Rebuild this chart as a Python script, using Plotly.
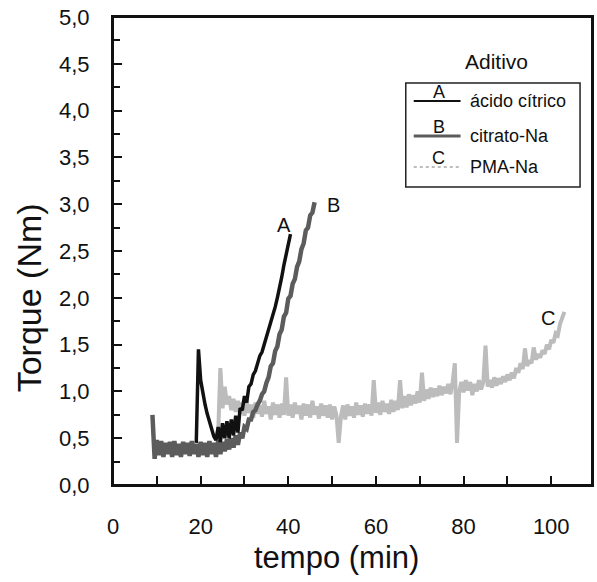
import plotly.graph_objects as go

# ---------------- data ----------------
series_names = ["ácido cítrico", "citrato-Na", "PMA-Na"]
series_letters = ["A", "B", "C"]

# A: ácido cítrico, sampled every 0.5 min from 19.0 min
a_start, a_step = 19.0, 0.5
a_torque = [0.45, 1.45, 1.12, 0.98, 0.86, 0.76, 0.68, 0.60, 0.52, 0.48,
            0.62, 0.46, 0.66, 0.50, 0.68, 0.50, 0.70, 0.53, 0.74, 0.56,
            0.82, 0.80, 0.95, 0.88, 1.05, 1.08, 1.18, 1.22, 1.32, 1.38,
            1.42, 1.50, 1.58, 1.63, 1.72, 1.80, 1.90, 2.00, 2.10, 2.22,
            2.35, 2.45, 2.55, 2.68]

# B: citrato-Na, sampled every 0.5 min from 9.0 min
b_start, b_step = 9.0, 0.5
b_torque = [0.75, 0.28, 0.48, 0.32, 0.47, 0.30, 0.45, 0.33, 0.46, 0.30,
            0.47, 0.32, 0.44, 0.30, 0.46, 0.33, 0.45, 0.31, 0.47, 0.33,
            0.44, 0.30, 0.46, 0.32, 0.45, 0.30, 0.47, 0.33, 0.45, 0.30,
            0.48, 0.33, 0.46, 0.36, 0.49, 0.38, 0.50, 0.40, 0.53, 0.43,
            0.56, 0.50, 0.62, 0.60, 0.70, 0.70, 0.78, 0.80, 0.86, 0.90,
            0.97, 1.00, 1.09, 1.15, 1.27, 1.30, 1.43, 1.48, 1.61, 1.66,
            1.80, 1.84, 1.99, 2.02, 2.15, 2.20, 2.33, 2.39, 2.52, 2.58,
            2.72, 2.75, 2.88, 2.91, 3.02]

# C: PMA-Na, sampled every 0.5 min from 24.0 min
c_start, c_step = 24.0, 0.5
c_torque = [0.55, 1.25, 0.82, 1.05, 0.86, 0.95, 0.80, 0.92, 0.78, 0.90,
            0.76, 0.88, 0.74, 0.90, 0.77, 0.86, 0.72, 0.88, 0.76, 0.85,
            0.73, 0.90, 0.76, 0.84, 0.70, 0.88, 0.75, 0.86, 0.72, 0.87,
            0.75, 1.15, 0.74, 0.86, 0.72, 0.88, 0.76, 0.85, 0.70, 0.87,
            0.74, 0.86, 0.72, 0.90, 0.75, 0.84, 0.71, 0.87, 0.74, 0.85,
            0.72, 0.86, 0.70, 0.84, 0.74, 0.45, 0.73, 0.85, 0.70, 0.86,
            0.74, 0.84, 0.72, 0.88, 0.75, 0.85, 0.73, 0.87, 0.76, 0.86,
            0.74, 1.12, 0.77, 0.88, 0.75, 0.90, 0.78, 0.87, 0.76, 0.91,
            0.78, 0.90, 0.80, 1.12, 0.82, 0.95, 0.83, 0.97, 0.85, 0.96,
            0.87, 1.00, 0.88, 1.20, 0.90, 1.02, 0.92, 1.04, 0.94, 1.03,
            0.95, 1.06, 0.96, 1.05, 0.98, 1.08, 0.97, 1.10, 1.30, 0.45,
            1.00, 1.10, 0.99, 1.12, 1.01, 1.10, 0.96, 1.08, 1.00, 1.12,
            1.02, 1.10, 1.49, 1.05, 1.12, 1.04, 1.15, 1.06, 1.14, 1.08,
            1.16, 1.10, 1.18, 1.12, 1.20, 1.14, 1.25, 1.20, 1.30, 1.24,
            1.46, 1.27, 1.33, 1.30, 1.47, 1.34, 1.40, 1.36, 1.44, 1.40,
            1.50, 1.45, 1.55, 1.52, 1.62, 1.60, 1.72, 1.78, 1.85]

x_tick_vals = [0, 20, 40, 60, 80, 100]
y_tick_vals = [0.0, 0.5, 1.0, 1.5, 2.0, 2.5, 3.0, 3.5, 4.0, 4.5, 5.0]
x_title = "tempo (min)"
y_title = "Torque (Nm)"
legend_title = "Aditivo"

# ---------------- styling ----------------
colors = ["#111111", "#5c5c5c", "#bcbcbc"]
widths = [3.5, 4.5, 4]
FONT = "Liberation Sans, Arial, Helvetica, sans-serif"

W, H = 597, 582
L, R, T, B = 113, 594, 17, 485  # plot area in pixels


def px(x):
    return (x - L) / (R - L)


def py(y):
    return (B - y) / (B - T)


def times(start, step, n):
    return [start + step * i for i in range(n)]


fig = go.Figure()
data = [(a_start, a_step, a_torque), (b_start, b_step, b_torque), (c_start, c_step, c_torque)]
# draw order: C (bottom), B, A (top)
for idx in [2, 1, 0]:
    s, st, v = data[idx]
    fig.add_trace(go.Scatter(
        x=times(s, st, len(v)), y=v, mode="lines",
        name=series_names[idx],
        line=dict(color=colors[idx], width=widths[idx]),
        showlegend=False, hoverinfo="skip",
    ))

axis_common = dict(
    showline=True, linecolor="#111111", linewidth=2, mirror=True,
    ticks="inside", tickcolor="#111111", tickwidth=1.5, ticklen=9,
    showgrid=False, zeroline=False,
    tickfont=dict(family=FONT, size=22, color="#111111"),
)

fig.update_xaxes(
    range=[0, 109.3], tickvals=x_tick_vals, ticklabelstandoff=21,
    minor=dict(dtick=10, tick0=0, ticks="inside", ticklen=9, tickcolor="#111111", tickwidth=1.5),
    **axis_common,
)
fig.update_yaxes(
    range=[0, 5], tickvals=y_tick_vals, tickformat=".1f", ticklabelstandoff=17,
    minor=dict(dtick=0.25, tick0=0, ticks="inside", ticklen=7, tickcolor="#111111", tickwidth=1.5),
    **axis_common,
)

annotations = []
# axis titles
annotations.append(dict(x=px(337), y=py(557), xref="paper", yref="paper", text=x_title,
                        showarrow=False, font=dict(family=FONT, size=31, color="#111111"),
                        xanchor="center", yanchor="middle"))
annotations.append(dict(x=px(29), y=py(298), xref="paper", yref="paper", text=y_title,
                        showarrow=False, textangle=-90, font=dict(family=FONT, size=34, color="#111111"),
                        xanchor="center", yanchor="middle"))
# curve labels
curve_label_pos = [(39.0, 2.78), (50.3, 2.99), (99.3, 1.78)]
for letter, (lx, ly) in zip(series_letters, curve_label_pos):
    annotations.append(dict(x=lx, y=ly, xref="x", yref="y", text=letter, showarrow=False,
                            font=dict(family=FONT, size=20, color="#111111"),
                            xanchor="center", yanchor="middle"))

# custom legend
annotations.append(dict(x=px(498), y=py(62), xref="paper", yref="paper", text=legend_title,
                        showarrow=False, font=dict(family=FONT, size=21, color="#111111"),
                        xanchor="center", yanchor="middle"))
shapes = [
    # plot frame
    dict(type="rect", xref="paper", yref="paper", x0=0, x1=1, y0=0, y1=1,
         line=dict(color="#111111", width=2), fillcolor="rgba(0,0,0,0)", layer="above"),
    dict(type="rect", xref="paper", yref="paper",
         x0=px(407), x1=px(582), y0=py(187), y1=py(83),
         line=dict(color="#222222", width=1.5), fillcolor="rgba(0,0,0,0)"),
]
legend_rows = [101, 136, 167]
legend_dash = ["solid", "solid", "dot"]
legend_w = [2, 3, 2]
for i, ry in enumerate(legend_rows):
    shapes.append(dict(type="line", xref="paper", yref="paper",
                       x0=px(415), x1=px(462), y0=py(ry), y1=py(ry),
                       line=dict(color=colors[i], width=legend_w[i], dash=legend_dash[i])))
    annotations.append(dict(x=px(440), y=py(ry - 9), xref="paper", yref="paper",
                            text=series_letters[i], showarrow=False,
                            font=dict(family=FONT, size=18, color="#111111"),
                            xanchor="center", yanchor="middle"))
    annotations.append(dict(x=px(469), y=py(ry), xref="paper", yref="paper",
                            text=series_names[i], showarrow=False,
                            font=dict(family=FONT, size=18, color="#111111"),
                            xanchor="left", yanchor="middle"))

fig.update_layout(
    width=W, height=H,
    margin=dict(l=L, r=W - R, t=T, b=H - B, pad=0),
    plot_bgcolor="white", paper_bgcolor="white",
    separators=",.",
    annotations=annotations, shapes=shapes,
    showlegend=False,
)

fig.write_html("out.html", config={"displayModeBar": False},
               post_script="document.body.style.margin='0px';")
